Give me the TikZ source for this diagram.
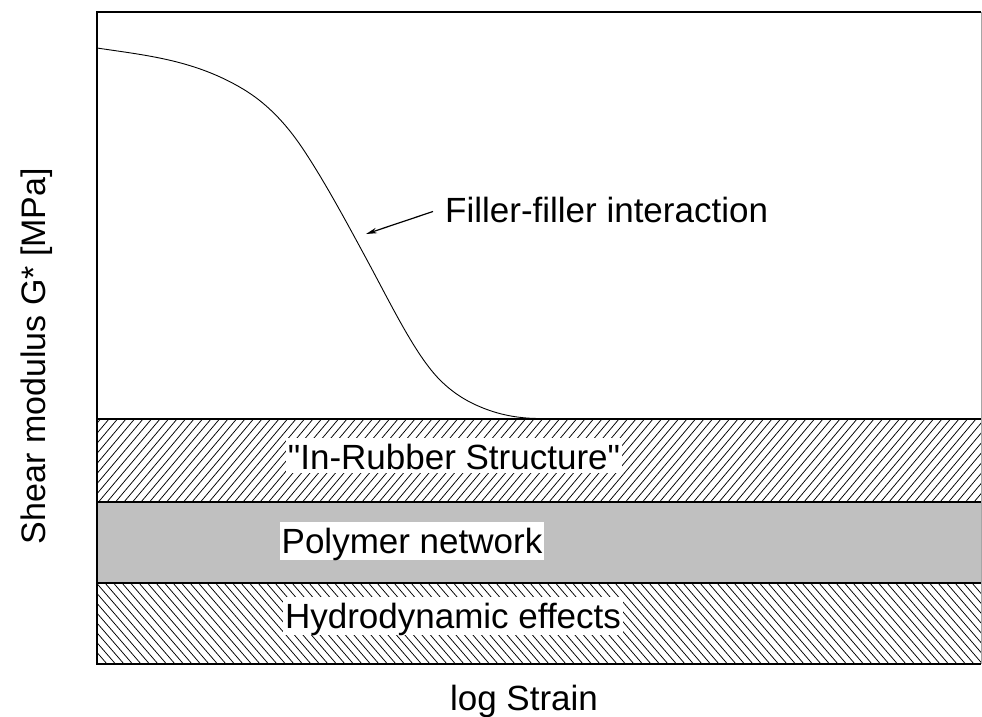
\documentclass[tikz,border=0pt]{standalone}
\usepackage{fontspec}
\setmainfont{Liberation Sans}[Ligatures=TeXOff]
\usetikzlibrary{arrows.meta}
\definecolor{bandgray}{RGB}{192,192,192}
\begin{document}
\begin{tikzpicture}[x=1pt,y=-1pt,
  lbl/.style={font=\fontsize{35}{40}\selectfont, inner sep=0pt},
  boxlbl/.style={lbl, fill=white, inner xsep=2pt, inner ysep=0pt, text height=31.5pt, text depth=7pt},
  frameline/.style={line width=2.4pt, black},
  bandline/.style={line width=1.3pt, black},
  hatchline/.style={line width=0.75pt, black},
  curveline/.style={line width=0.9pt, black},
  pointer/.style={line width=1.2pt, -{Stealth[length=11pt,width=5.5pt]}}]
\useasboundingbox (0,0) rectangle (982,716);

% grey band
\fill[bandgray] (97,502) rectangle (981,583);

% upper hatched band
\begin{scope}
  \clip (97,419) rectangle (981,502);
  \foreach \x in {-80,-71.5,...,990} \draw[hatchline] (\x,502) -- ++(70,-83);
\end{scope}

% lower hatched band
\begin{scope}
  \clip (97,583) rectangle (981,664);
  \foreach \x in {20,28.5,...,990} \draw[hatchline] (\x,583) -- ++(70,81);
\end{scope}

% band boundaries
\draw[bandline] (97,419) -- (981,419);
\draw[bandline] (97,502) -- (981,502);
\draw[bandline] (97,583) -- (981,583);

% frame
\draw[line width=0.8pt, black!35] (981,12) -- (981,664);
\draw[frameline] (981,12) -- (97,12) -- (97,664) -- (981,664);

% curve
\draw[curveline] (97,48)
  .. controls (145.67,55.3) and (194.33,59.8) .. (243,89)
  .. controls (263,101) and (283,119) .. (303,149)
  .. controls (324.33,181) and (345.67,220.5) .. (367,260)
  .. controls (391.33,305) and (415.67,355.67) .. (440,380)
  .. controls (454.33,394.33) and (468.67,402.27) .. (483,408)
  .. controls (502,415.6) and (521,418.5) .. (540,418.5)
  -- (548,418.8);

% labels
\node[lbl, anchor=base west] (ffi) at (445,222) {Filler-filler interaction};
\coordinate (tip) at (366,234);
\draw[pointer] ([xshift=-12pt,yshift=-2pt]ffi.west) -- (tip);

\node[boxlbl, text depth=4pt, anchor=base] (irs) at (454,469) {"In-Rubber Structure"};
\node[boxlbl, anchor=base] (pn) at (412,553) {Polymer network};
\node[boxlbl, anchor=base] (hy) at (453,628) {Hydrodynamic effects};

\node[lbl, anchor=base] (xl) at (524,710) {log Strain};
\node[lbl, font=\fontsize{34}{40}\selectfont, rotate=90, anchor=base] (yl) at (45,356) {Shear modulus G* [MPa]};
\end{tikzpicture}
\end{document}
